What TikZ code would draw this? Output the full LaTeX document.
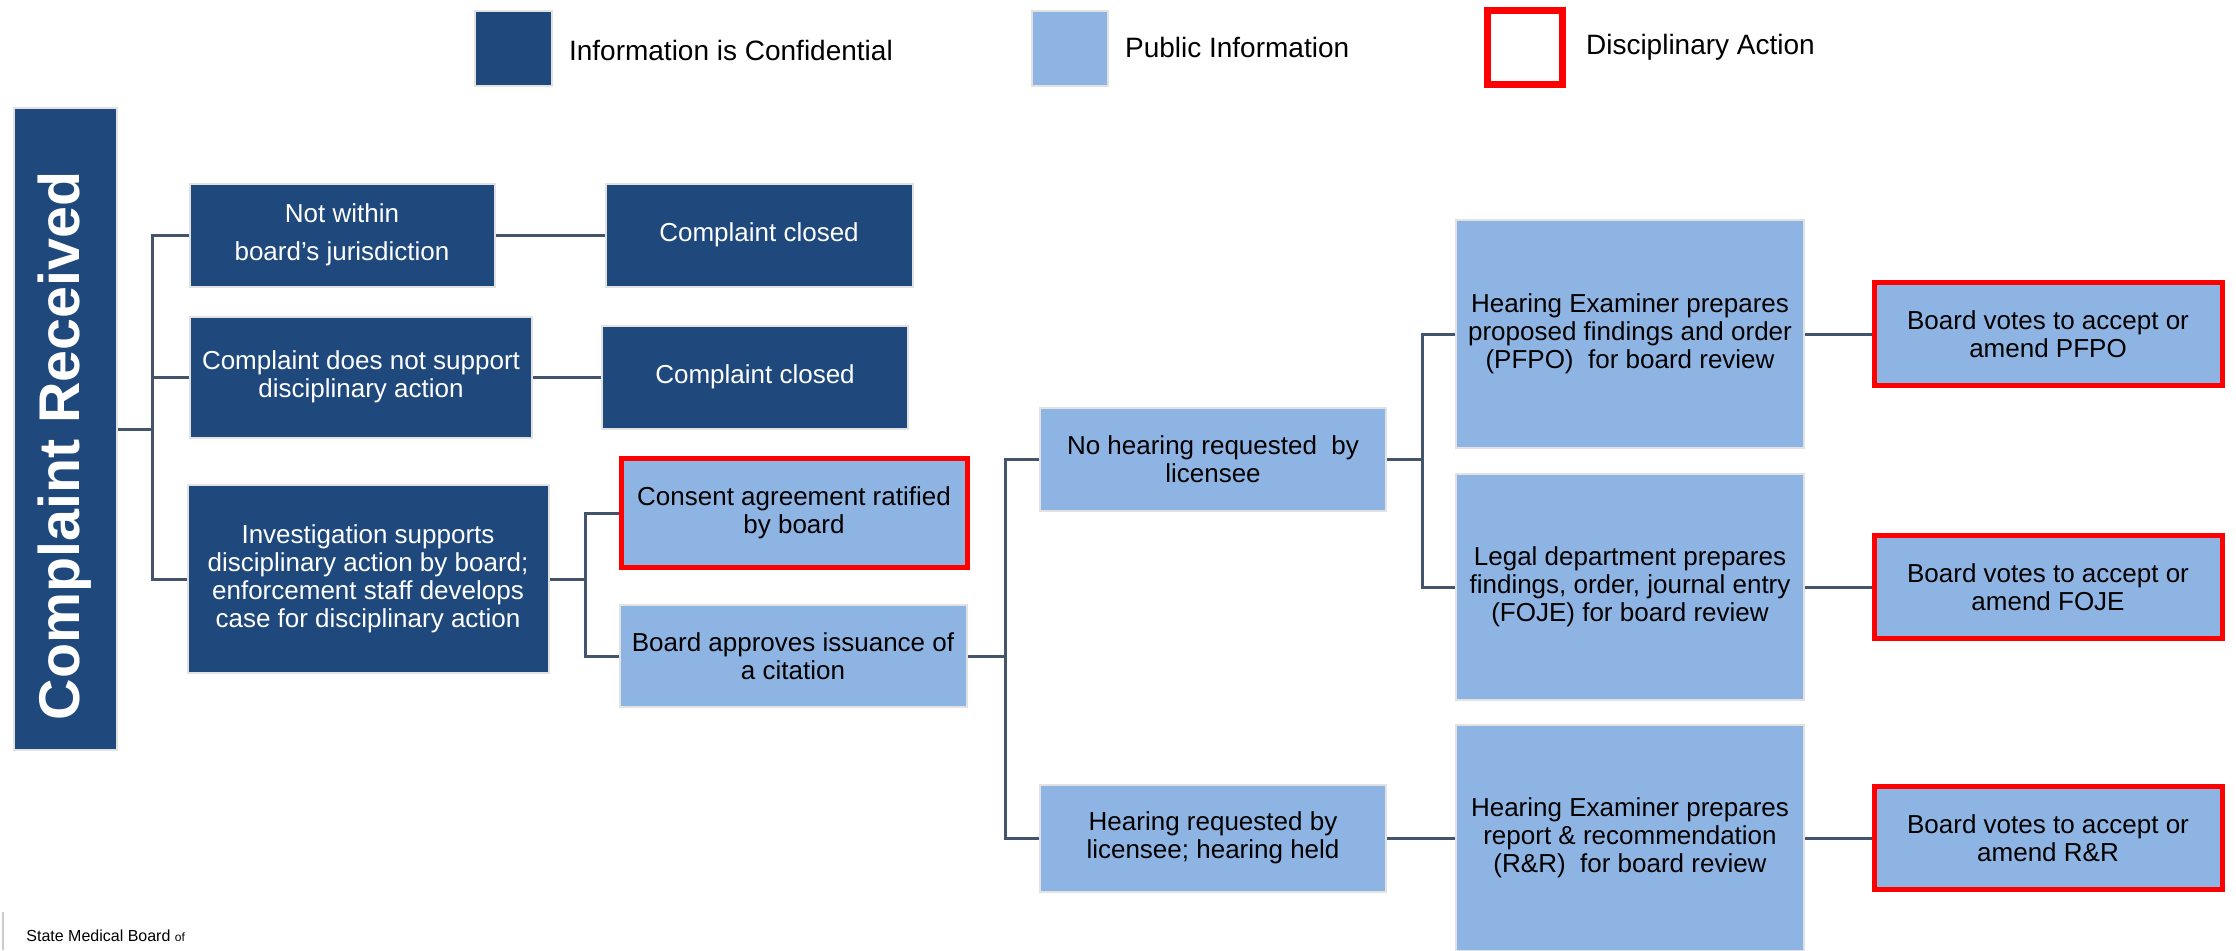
\documentclass[tikz,border=0pt]{standalone}
\usepackage{fontspec}
\setmainfont{Liberation Sans}

\definecolor{confblue}{RGB}{31,73,125}
\definecolor{pubblue}{RGB}{142,180,227}
\definecolor{linkgray}{RGB}{68,84,106}
\definecolor{edgegray}{RGB}{226,226,226}

\begin{document}
\begin{tikzpicture}[x=0.5pt, y=-0.5pt, font=\fontsize{13}{14}\selectfont,
    box/.style={draw=edgegray, line width=1pt, inner sep=0pt, align=center},
    conf/.style={box, fill=confblue, text=white},
    pub/.style={box, fill=pubblue, text=black},
    disc/.style={pub, draw=red, line width=2.5pt},
    link/.style={draw=linkgray, line width=1.5pt},
    legtext/.style={anchor=west, font=\fontsize{14}{16}\selectfont}]
            \useasboundingbox (0,0) rectangle (2236,950);

            % Legend
            \node[conf, minimum width=38.5pt, minimum height=37.5pt] (kconf) at (513,48) {};
            \node[legtext] (tconf) at (562,50) {Information is Confidential};
            \node[pub, minimum width=38pt, minimum height=37.5pt] (kpub) at (1070,48) {};
            \node[legtext] (tpub) at (1118,47) {Public Information};
            \node[box, draw=red, line width=3.5pt, fill=white, minimum width=37.5pt, minimum height=37pt] (kdisc) at (1525,47) {};
            \node[legtext] (tdisc) at (1579,47) {Disciplinary Action};

            % Start
            \node[conf, rotate=90, minimum width=321pt, minimum height=51.5pt,
                  font=\fontsize{28.7}{30}\selectfont\bfseries] (recv) at (65,429)
                {\raisebox{-2pt}{Complaint Received}\hspace*{17pt}};

            % First split
            \node[conf, minimum width=152.5pt, minimum height=51.5pt] (nojur) at (342,235)
                {Not within\\[5pt]board’s jurisdiction};
            \node[conf, minimum width=171pt, minimum height=60.5pt] (nosupp) at (361,377)
                {Complaint does not support\\disciplinary action};
            \node[conf, minimum width=180.5pt, minimum height=94pt] (invest) at (368,579)
                {Investigation supports\\disciplinary action by board;\\enforcement staff develops\\case for disciplinary action};

            % Closed
            \node[conf, minimum width=153.5pt, minimum height=51.5pt] (closeda) at (759,235) {Complaint closed};
            \node[conf, minimum width=153pt, minimum height=51.5pt] (closedb) at (755,377) {Complaint closed};

            % Board outcome
            \node[disc, minimum width=173pt, minimum height=54.5pt] (consent) at (794,513)
                {Consent agreement ratified\\by board};
            \node[pub, minimum width=173.5pt, minimum height=51pt] (citation) at (793,656)
                {Board approves issuance of\\a citation};

            % Hearing or not
            \node[pub, minimum width=173pt, minimum height=51.5pt] (nohear) at (1213,459)
                {No hearing requested\ \ by\\licensee};
            \node[pub, minimum width=173pt, minimum height=53.5pt] (hear) at (1213,838)
                {Hearing requested by\\licensee; hearing held};

            % Reports
            \node[pub, minimum width=174pt, minimum height=114pt] (pfpo) at (1630,334)
                {Hearing Examiner prepares\\proposed findings and order\\(PFPO)\ \ for board review};
            \node[pub, minimum width=174pt, minimum height=113pt] (foje) at (1630,587)
                {Legal department prepares\\findings, order, journal entry\\(FOJE) for board review};
            \node[pub, minimum width=174pt, minimum height=113pt] (rr) at (1630,838)
                {Hearing Examiner prepares\\report \& recommendation\\(R\&R)\ \ for board review};

            % Board votes
            \node[disc, minimum width=174pt, minimum height=51.5pt] (votea) at (2048,334)
                {Board votes to accept or\\amend PFPO};
            \node[disc, minimum width=174pt, minimum height=51.5pt] (voteb) at (2048,587)
                {Board votes to accept or\\amend FOJE};
            \node[disc, minimum width=174pt, minimum height=51.5pt] (votec) at (2048,838)
                {Board votes to accept or\\amend R\&R};

            % Footer
            \node[anchor=base west, inner sep=0pt, font=\fontsize{8}{9}\selectfont] (smb) at (26,941)
                {State Medical Board {\fontsize{6}{7}\selectfont of}};
            \draw[gray!40, line width=1pt] (3,912) -- (3,950);

            % Junctions
            \coordinate (ja) at (152,429);
            \coordinate (jb) at (585,579);
            \coordinate (jc) at (1005,656);
            \coordinate (jd) at (1422,459);

            % Lines
            \draw[link] (recv.south) -- (ja);
            \draw[link] (nojur.west) -| (ja);
            \draw[link] (nosupp.west) -| (ja);
            \draw[link] (invest.west) -| (ja);
            \draw[link] (nojur.east) -- (closeda.west);
            \draw[link] (nosupp.east) -- (closedb.west);
            \draw[link] (invest.east) -- (jb);
            \draw[link] (consent.west) -| (jb);
            \draw[link] (citation.west) -| (jb);
            \draw[link] (citation.east) -- (jc);
            \draw[link] (nohear.west) -| (jc);
            \draw[link] (hear.west) -| (jc);
            \draw[link] (nohear.east) -- (jd);
            \draw[link] (pfpo.west) -| (jd);
            \draw[link] (foje.west) -| (jd);
            \draw[link] (pfpo.east) -- (votea.west);
            \draw[link] (foje.east) -- (voteb.west);
            \draw[link] (hear.east) -- (rr.west);
            \draw[link] (rr.east) -- (votec.west);
        \end{tikzpicture}
\end{document}
